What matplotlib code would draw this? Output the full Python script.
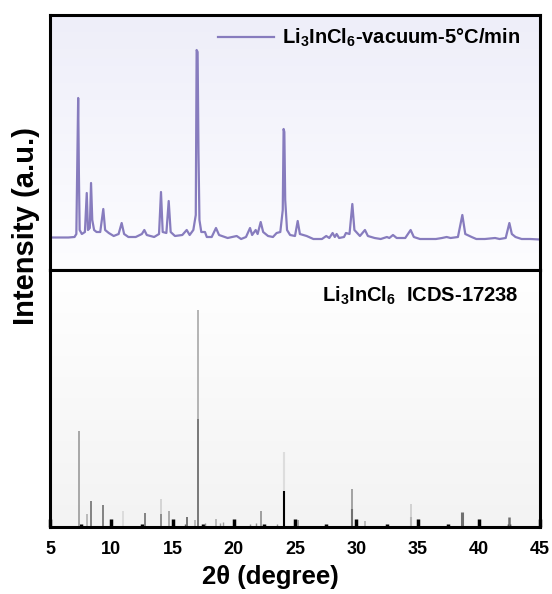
import matplotlib

matplotlib.use("Agg")
import matplotlib.pyplot as plt
import numpy as np
from matplotlib.colors import LinearSegmentedColormap

plt.rcParams["font.family"] = "Liberation Sans"
plt.rcParams["font.weight"] = "bold"
plt.rcParams["axes.labelweight"] = "bold"
plt.rcParams["mathtext.fontset"] = "custom"
plt.rcParams["mathtext.rm"] = "Liberation Sans:bold"
plt.rcParams["mathtext.bf"] = "Liberation Sans:bold"
plt.rcParams["mathtext.it"] = "Liberation Sans:bold"

two_theta = [
    5.0, 6.5, 7.0, 7.15, 7.3, 7.36, 7.42, 7.6, 7.85, 8.0, 8.1, 8.25, 8.35, 8.45,
    8.6, 8.8, 9.1, 9.35, 9.5, 9.8, 10.2, 10.6, 10.85, 11.05, 11.4, 12.0, 12.5,
    12.7, 12.9, 13.5, 13.9, 14.06, 14.2, 14.5, 14.69, 14.85, 15.2, 15.8, 16.16,
    16.4, 16.7, 16.9, 16.97, 17.05, 17.12, 17.2, 17.35, 17.65, 17.8, 18.2, 18.55,
    18.8, 19.5, 20.24, 20.6, 21.0, 21.33, 21.5, 21.79, 21.95, 22.2, 22.4, 22.8,
    23.2, 23.5, 23.8, 24.0, 24.07, 24.13, 24.2, 24.35, 24.6, 25.0, 25.22, 25.4,
    25.95, 26.5, 27.2, 27.55, 27.8, 28.07, 28.25, 28.4, 28.6, 29.0, 29.16, 29.45,
    29.68, 29.85, 30.3, 30.71, 30.95, 31.5, 32.0, 32.5, 32.7, 33.0, 33.3, 34.0,
    34.44, 34.7, 35.2, 35.75, 36.5, 37.0, 37.38, 37.7, 38.3, 38.66, 38.9, 39.42,
    39.8, 40.5, 41.33, 41.7, 42.2, 42.5, 42.7, 43.0, 43.5, 44.2, 45.0,
]
intensity = [
    32.5, 32.5, 33, 36, 172, 95, 40, 36, 38, 77, 40, 42, 87, 50,
    40, 38, 38, 61, 40, 37, 34, 36, 47, 36, 33, 33, 36,
    40, 35, 33, 36, 78, 38, 37, 69, 38, 34, 35, 40,
    35, 40, 55, 220, 218, 117, 50, 38, 38, 33, 33, 42,
    35, 32, 34, 31, 33, 42, 35, 40, 36, 48, 38, 34,
    33, 37, 38, 60, 141, 138, 70, 40, 35, 34, 49, 36,
    34, 31, 31, 34, 32, 37, 33, 36, 32, 33, 37, 36,
    66, 40, 34, 40, 34, 32, 31, 33, 32, 35, 32, 32,
    40, 33, 31, 31, 31, 32, 33, 32, 33, 55, 36, 33,
    31, 31, 32, 31, 32, 47, 36, 33, 31, 31, 30.5,
]

# reference card ICDS-17238 sticks
ref_pos = [
    7.37, 8.0, 8.35, 9.35, 10.93, 12.73, 14.06, 14.06, 14.69, 16.0, 16.2, 16.85,
    17.05, 17.05, 17.65, 18.55, 18.88, 19.1, 21.33, 21.8, 22.2, 23.5, 24.1, 24.1,
    25.27, 29.68, 29.68, 30.71, 34.44, 34.44, 38.66, 42.5,
]
ref_int = [
    96, 13, 26, 22, 16, 14, 28, 13, 16, 3, 10, 7,
    217, 108, 4, 8, 4, 5, 3, 4, 16, 3, 75, 36,
    7, 38, 18, 6, 23, 10, 15, 10,
]
ref_color = [
    "#9a9a9a", "#b0b0b0", "#707070", "#707070", "#d8d8d8", "#707070", "#cfcfcf",
    "#808080", "#a0a0a0", "#606060", "#606060", "#b0b0b0", "#a8a8a8", "#707070",
    "#909090", "#b0b0b0", "#a0a0a0", "#a0a0a0", "#909090", "#909090", "#909090",
    "#909090", "#dddddd", "#000000", "#909090", "#959595", "#707070", "#b0b0b0",
    "#cccccc", "#b5b5b5", "#707070", "#707070",
]
ref_width = [
    1.2, 1.2, 1.2, 1.2, 1.2, 1.2, 1.2, 1.2, 1.2, 1.0, 1.2, 1.2,
    1.2, 1.2, 1.0, 1.2, 1.0, 1.0, 1.0, 1.0, 1.2, 1.0, 1.5, 1.5,
    1.2, 1.2, 1.5, 1.2, 1.2, 1.5, 2.2, 1.8,
]

xticks = [5, 10, 15, 20, 25, 30, 35, 40, 45]

fig = plt.figure(figsize=(5.52, 5.94), dpi=100)
ax_top = fig.add_axes((50 / 552, 1 - 270 / 594, 490 / 552, 255 / 594))
ax_bot = fig.add_axes((50 / 552, 1 - 527 / 594, 490 / 552, 257 / 594), sharex=ax_top)

# soft background gradients
grad = np.linspace(0, 1, 256).reshape(-1, 1)
top_cmap = LinearSegmentedColormap.from_list("t", ["#eeeef9", "#fdfdff"])
bot_cmap = LinearSegmentedColormap.from_list("b", ["#ffffff", "#f3f3f3"])
ax_top.imshow(grad, cmap=top_cmap, aspect="auto", extent=(0, 1, 0, 1),
              transform=ax_top.transAxes, zorder=0)
ax_bot.imshow(grad, cmap=bot_cmap, aspect="auto", extent=(0, 1, 0, 1),
              transform=ax_bot.transAxes, zorder=0)

ax_top.plot(two_theta, intensity, color="#877cbe", lw=1.6,
            label=r"Li$_3$InCl$_6$-vacuum-5°C/min", zorder=2)
ax_top.set_ylim(0, 255)
ax_top.legend(loc="upper right", frameon=False, prop={"size": 14.5, "weight": "bold"},
              handlelength=2.8, handletextpad=0.4, borderaxespad=0.2,
              bbox_to_anchor=(0.985, 1.0))
ax_top.tick_params(axis="both", which="both", bottom=False, left=False,
                   labelbottom=False, labelleft=False)

ax_bot.vlines(ref_pos, 0, ref_int, colors=ref_color, linewidths=ref_width, zorder=2)
ax_bot.set_ylim(0, 257)
ax_bot.text(0.955, 0.9, r"Li$_3$InCl$_6$  ICDS-17238", transform=ax_bot.transAxes,
            ha="right", va="center", fontsize=14.5, fontweight="bold")

ax_bot.set_xlim(5, 45)
ax_bot.set_xticks(xticks, labels=[str(t) for t in xticks], fontweight="bold")
ax_bot.set_xticks(np.arange(7.5, 45, 5), minor=True)
ax_bot.tick_params(axis="x", which="major", direction="in", length=6, width=2.5,
                   labelsize=13, pad=10)
ax_bot.tick_params(axis="x", which="minor", direction="in", length=2.5, width=2.5)
ax_bot.tick_params(axis="y", left=False, labelleft=False)

for ax in (ax_top, ax_bot):
    for sp in ax.spines.values():
        sp.set_linewidth(2.2)
        sp.set_zorder(5)

fig.text(270 / 552, 1 - 577 / 594, "2θ (degree)", ha="center", va="center",
         fontsize=18.5, fontweight="bold")
fig.text(26 / 552, 1 - 226 / 594, "Intensity (a.u.)", rotation=90, ha="center",
         va="center", fontsize=21, fontweight="bold")

fig.savefig("out.png", dpi=100)
